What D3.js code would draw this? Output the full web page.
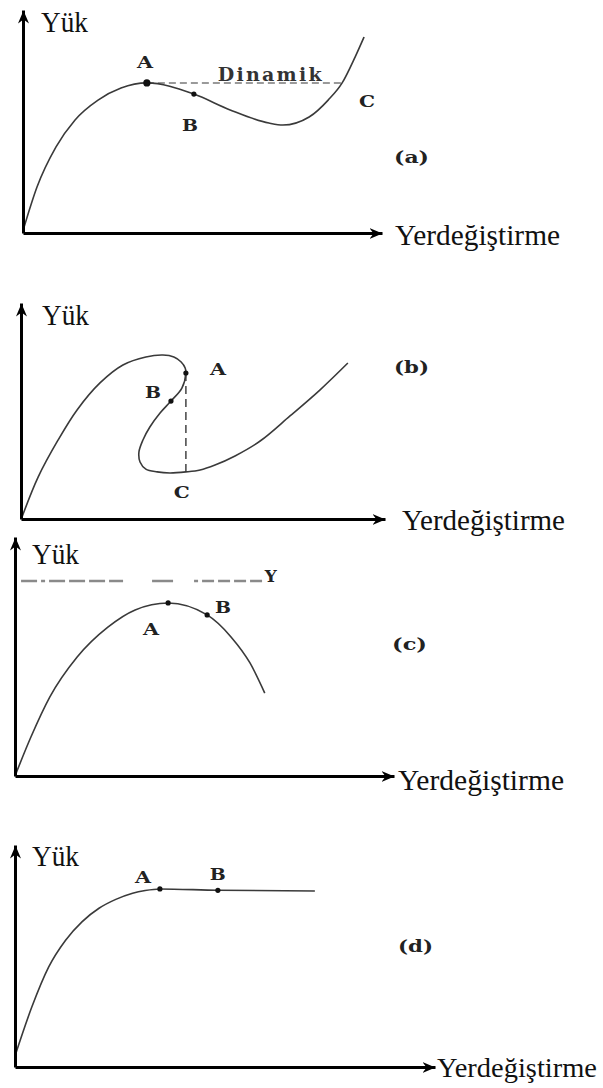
<!DOCTYPE html>
<html>
<head>
<meta charset="utf-8">
<script src="https://cdn.jsdelivr.net/npm/d3@7/dist/d3.min.js"></script>
<style>
  html, body { margin: 0; padding: 0; background: #fff; }
  svg { display: block; }
</style>
</head>
<body>
<svg id="chart" width="603" height="1088"></svg>
<script>
// Load–displacement behaviour sketches (a)–(d).
// Values are normalised: displacement and load both run 0–100 along each axis.

const panelKeys = ["a", "b", "c", "d"];
const yAxisTitle = "Yük";
const xAxisTitle = "Yerdeğiştirme";

// (a) snap-through curve
const dispA = [0, 3.9, 9.2, 14.5, 20.9, 27.3, 34.5, 47.6, 57.7, 68.5, 72.4, 79.7, 85.0, 88.9, 92.5, 95.0];
const loadA = [1, 20.6, 38.6, 50.7, 59.6, 65.0, 67.3, 62.3, 55.2, 49.3, 48.4, 52.0, 59.6, 67.3, 78.9, 87.9];
const markA = ["A", "B"];
const markDispA = [34.5, 47.6];
const markLoadA = [67.3, 62.3];
const dynamicLoadA = 67.3;           // load level of the dynamic jump
const dynamicDispA = [34.5, 88.9];   // from A to C
const labelTextA = ["A", "B", "C"];
const labelDispA = [34.0, 46.5, 95.8];
const labelLoadA = [74.0, 45.7, 56.5];

// (b) snap-back curve (the path turns back on itself, so it is traced in order)
const dispB = [0.3, 4.7, 10.2, 15.4, 21.7, 28.0, 34.3, 39.0, 42.0, 44.0, 45.1, 45.3, 44.2, 41.2, 38.2, 35.4, 33.5, 32.4, 32.7, 34.3, 37.4, 40.9, 45.3, 49.2, 53.3, 58.8, 65.7, 73.9, 82.1, 89.8];
const loadB = [1, 19.4, 36.6, 50.5, 63.0, 71.3, 75.0, 75.9, 75.0, 72.7, 69.9, 67.6, 60.6, 54.6, 49.1, 42.6, 36.6, 31.0, 26.4, 23.1, 21.8, 21.3, 21.8, 22.7, 25.0, 29.2, 36.1, 47.7, 59.7, 72.2];
const markB = ["A", "B"];
const markDispB = [45.3, 41.2];
const markLoadB = [67.6, 54.6];
const jumpDispB = 45.3;              // vertical drop A → C
const jumpLoadB = [67.6, 21.8];
const labelTextB = ["A", "B", "C"];
const labelDispB = [54.1, 36.3, 44.2];
const labelLoadB = [66.5, 55.8, 9.8];

// (c) limit point followed by softening
const dispC = [0, 4.2, 9.2, 16.4, 24.5, 31.7, 40.4, 50.7, 57.0, 62.0, 65.9];
const loadC = [0, 16.3, 33.1, 49.8, 62.3, 69.5, 72.4, 67.4, 58.2, 47.3, 34.7];
const markC = ["A", "B"];
const markDispC = [40.4, 50.7];
const markLoadC = [72.4, 67.4];
const refLoadC = 81.6;               // level Y
const refDispC = [1.6, 65.2];
const labelTextC = ["A", "B", "Y"];
const labelDispC = [35.9, 54.9, 67.5];
const labelLoadC = [59.0, 68.2, 81.2];

// (d) perfectly plastic plateau
const dispD = [0, 4, 8, 12, 16, 20, 24, 28, 31, 34.5, 48.3, 71.4];
const loadD = [5, 27, 45, 57, 65.5, 71.5, 75.5, 78.3, 79.5, 80.2, 79.6, 79.3];
const markD = ["A", "B"];
const markDispD = [34.5, 48.3];
const markLoadD = [80.2, 79.6];
const labelTextD = ["A", "B"];
const labelDispD = [30.5, 48.3];
const labelLoadD = [82.9, 84.2];

// ---- layout of the four panels (pixels) ----
const frames = {
  a: { ox: 23, oy: 233, xEnd: 382, yEnd: 10,  yTitle: [41, 32],  xTitle: [395, 245, 165, 30], tag: [394, 163] },
  b: { ox: 21, oy: 519, xEnd: 385, yEnd: 303, yTitle: [42, 325], xTitle: [402, 530, 163, 30], tag: [394, 373] },
  c: { ox: 15, oy: 776, xEnd: 394, yEnd: 537, yTitle: [32, 564], xTitle: [398, 790, 166, 30], tag: [392, 650] },
  d: { ox: 15, oy: 1067, xEnd: 435, yEnd: 845, yTitle: [32, 866], xTitle: [437, 1077, 160, 28], tag: [398, 952] }
};

const series = {
  a: { disp: dispA, load: loadA, mark: markA, mx: markDispA, my: markLoadA, lt: labelTextA, lx: labelDispA, ly: labelLoadA, loop: false },
  b: { disp: dispB, load: loadB, mark: markB, mx: markDispB, my: markLoadB, lt: labelTextB, lx: labelDispB, ly: labelLoadB, loop: true },
  c: { disp: dispC, load: loadC, mark: markC, mx: markDispC, my: markLoadC, lt: labelTextC, lx: labelDispC, ly: labelLoadC, loop: false },
  d: { disp: dispD, load: loadD, mark: markD, mx: markDispD, my: markLoadD, lt: labelTextD, lx: labelDispD, ly: labelLoadD, loop: false }
};

const svg = d3.select("#chart");
const defs = svg.append("defs");
defs.append("marker")
  .attr("id", "arrow")
  .attr("viewBox", "-13 -6 13 12")
  .attr("refX", 0).attr("refY", 0)
  .attr("markerWidth", 13).attr("markerHeight", 12)
  .attr("markerUnits", "userSpaceOnUse")
  .attr("orient", "auto")
  .append("path")
  .attr("d", "M0,0 L-13,-5.5 L-9,0 L-13,5.5 Z")
  .attr("fill", "#000");

const serif = "'Liberation Serif', 'Times New Roman', serif";
const slab = "'DejaVu Serif', serif";

panelKeys.forEach(key => {
  const f = frames[key];
  const s = series[key];
  const x = d3.scaleLinear().domain([0, 100]).range([f.ox, f.xEnd]);
  const y = d3.scaleLinear().domain([0, 100]).range([f.oy, f.yEnd]);
  const g = svg.append("g").attr("class", "panel-" + key);

  // guide lines drawn under the curve
  if (key === "a") {
    g.append("line")
      .attr("x1", x(dynamicDispA[0])).attr("x2", x(dynamicDispA[1]))
      .attr("y1", y(dynamicLoadA)).attr("y2", y(dynamicLoadA))
      .attr("stroke", "#9a9a9a").attr("stroke-width", 2)
      .attr("stroke-dasharray", "7,4");
    g.append("text")
      .attr("x", x(68.7)).attr("y", y(dynamicLoadA) - 2)
      .attr("text-anchor", "middle")
      .attr("font-family", slab).attr("font-weight", "bold")
      .attr("font-size", 19).attr("fill", "#333")
      .attr("textLength", 104).attr("lengthAdjust", "spacing")
      .text("Dinamik");
  }
  if (key === "b") {
    g.append("line")
      .attr("x1", x(jumpDispB)).attr("x2", x(jumpDispB))
      .attr("y1", y(jumpLoadB[0])).attr("y2", y(jumpLoadB[1]))
      .attr("stroke", "#444").attr("stroke-width", 1.5)
      .attr("stroke-dasharray", "8,5");
  }
  if (key === "c") {
    g.append("line")
      .attr("x1", x(refDispC[0])).attr("x2", x(refDispC[1]))
      .attr("y1", y(refLoadC)).attr("y2", y(refLoadC))
      .attr("stroke", "#8a8a8a").attr("stroke-width", 2.5)
      .attr("stroke-dasharray", "16,4,4,4,16,4,16,4,16,4,14,29,21,21,4,4,12,4,12,4,12,4,12,40");
  }

  // load–displacement curve
  const pts = s.disp.map((d, i) => [d, s.load[i]]);
  const line = d3.line()
    .x(d => x(d[0])).y(d => y(d[1]))
    .curve(s.loop ? d3.curveCatmullRom.alpha(0.5) : d3.curveMonotoneX);
  g.append("path")
    .attr("d", line(pts))
    .attr("fill", "none")
    .attr("stroke", "#3a3a3a")
    .attr("stroke-width", 1.6);

  // marked states on the curve
  g.selectAll("circle.mark")
    .data(s.mark)
    .join("circle")
    .attr("class", "mark")
    .attr("cx", (d, i) => x(s.mx[i]))
    .attr("cy", (d, i) => y(s.my[i]))
    .attr("r", (d, i) => (key === "a" && i === 0) ? 3.6 : 2.6)
    .attr("fill", "#111");

  // point letters
  g.selectAll("text.pt")
    .data(s.lt)
    .join("text")
    .attr("class", "pt")
    .attr("x", (d, i) => x(s.lx[i]))
    .attr("y", (d, i) => y(s.ly[i]))
    .attr("text-anchor", "middle")
    .attr("font-family", slab).attr("font-weight", "bold")
    .attr("font-size", 16).attr("fill", "#222")
    .attr("textLength", d => d === "Y" ? 12 : 16)
    .attr("lengthAdjust", "spacingAndGlyphs")
    .text(d => d);

  // axes: bare domain lines with arrowheads
  const xAxis = d3.axisBottom(x).tickValues([]).tickSizeOuter(0);
  const yAxis = d3.axisLeft(y).tickValues([]).tickSizeOuter(0);
  g.append("g").attr("transform", `translate(0,${f.oy})`).call(xAxis)
    .select(".domain")
    .attr("stroke", "#000").attr("stroke-width", 3)
    .attr("marker-end", "url(#arrow)");
  g.append("g").attr("transform", `translate(${f.ox},0)`).call(yAxis)
    .select(".domain")
    .attr("stroke", "#000").attr("stroke-width", 3)
    .attr("marker-end", "url(#arrow)");

  // axis titles
  g.append("text")
    .attr("x", f.yTitle[0]).attr("y", f.yTitle[1])
    .attr("font-family", serif).attr("font-size", 30).attr("fill", "#111")
    .attr("textLength", 47).attr("lengthAdjust", "spacingAndGlyphs")
    .text(yAxisTitle);
  g.append("text")
    .attr("x", f.xTitle[0]).attr("y", f.xTitle[1])
    .attr("font-family", serif).attr("font-size", f.xTitle[3]).attr("fill", "#111")
    .attr("textLength", f.xTitle[2]).attr("lengthAdjust", "spacingAndGlyphs")
    .text(xAxisTitle);

  // panel tag
  g.append("text")
    .attr("x", f.tag[0]).attr("y", f.tag[1])
    .attr("font-family", slab).attr("font-weight", "bold")
    .attr("font-size", 17).attr("fill", "#222")
    .attr("textLength", 35).attr("lengthAdjust", "spacingAndGlyphs")
    .text("(" + key + ")");
});
</script>
</body>
</html>
